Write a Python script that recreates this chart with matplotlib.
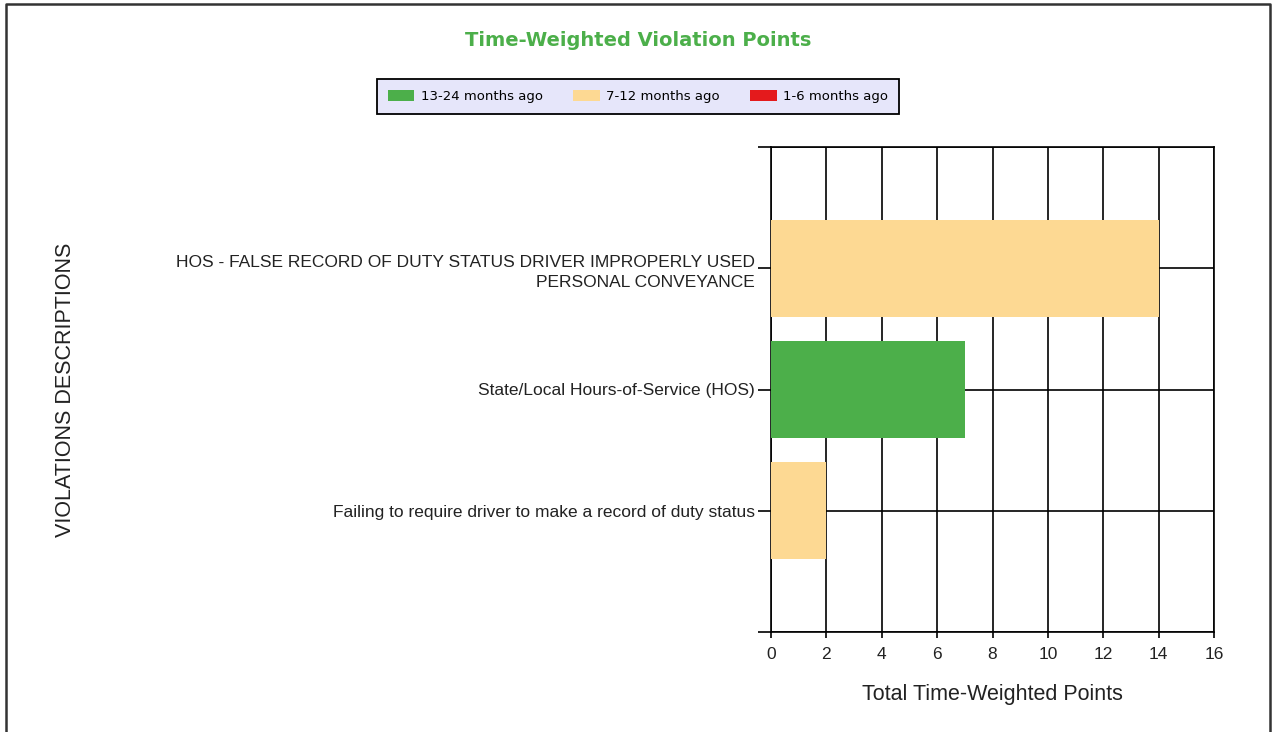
import matplotlib
matplotlib.use("Agg")
import matplotlib.pyplot as plt
from matplotlib.patches import Patch
from matplotlib.lines import Line2D
import numpy as np

# categories, listed top to bottom as in the chart
categories = ["HOS - FALSE RECORD OF DUTY STATUS DRIVER IMPROPERLY USED\nPERSONAL CONVEYANCE",
              "State/Local Hours-of-Service (HOS)",
              "Failing to require driver to make a record of duty status"]
series_names = ["13-24 months ago", "7-12 months ago", "1-6 months ago"]
pts_13_24 = [0, 7, 0]
pts_7_12 = [14, 0, 2]
pts_1_6 = [0, 0, 0]
xticks = [0, 2, 4, 6, 8, 10, 12, 14, 16]

colors = ["#4CAF4A", "#FDD993", "#E41A1C"]

plt.rcParams['font.family'] = ['Liberation Sans', 'DejaVu Sans']

fig = plt.figure(figsize=(12.74, 7.32), dpi=100)
ax = fig.add_axes([771/1274, 1-632/732, (1214-771)/1274, (632-147)/732])

y = np.arange(len(categories))
left = np.zeros(len(categories))
for vals, c in zip([pts_13_24, pts_7_12, pts_1_6], colors):
    vals = np.array(vals, dtype=float)
    ax.barh(y, vals, left=left, height=0.8, color=c, zorder=3)
    left += vals

ax.set_xlim(0, 16)
ax.set_ylim(len(categories), -1)
ax.set_xticks(xticks)
ax.set_xticklabels([str(t) for t in xticks], fontsize=12.5, color="#222222")
ax.set_yticks(np.arange(-1, len(categories) + 1))
ax.set_yticklabels([""] + categories + [""], fontsize=12.5, color="#222222", linespacing=1.4)
ax.grid(True, color="black", linewidth=1.2, zorder=0)
ax.set_axisbelow(True)
for s in ax.spines.values():
    s.set_color("black")
    s.set_linewidth(1.2)
ax.tick_params(axis="y", length=9.5, width=1.2, pad=2, color="black")
ax.tick_params(axis="x", length=4.5, width=1.2, pad=6, color="black")
ax.set_xlabel("Total Time-Weighted Points", fontsize=15.5, labelpad=16, color="#222222")

fig.text(66/1274, 1-390/732, "VIOLATIONS DESCRIPTIONS", rotation=90,
         ha="center", va="center", fontsize=15.5, color="#222222")

fig.text(638/1274, 1-41/732, "Time-Weighted Violation Points", ha="center", va="center",
         fontsize=14, fontweight="bold", color="#4CAF4A", family="DejaVu Sans")

handles = [Patch(facecolor=c, edgecolor="none") for c in colors]
leg = fig.legend(handles, series_names, loc="center", ncol=3,
                 bbox_to_anchor=(638/1274, 1-96.5/732),
                 prop={"family": "DejaVu Sans", "size": 9.5},
                 fancybox=False, framealpha=1, facecolor="#E6E6FA", edgecolor="black",
                 handlelength=2.0, handleheight=0.9, handletextpad=0.5,
                 columnspacing=2.3, borderpad=0.85)
leg.get_frame().set_linewidth(1.3)

# outer border (left, top, right)
fig.add_artist(Line2D([6/1274, 6/1274, 1270/1274, 1270/1274], [0, 1-4/732, 1-4/732, 0],
                      color="#333333", linewidth=1.8))

fig.savefig("out.png", dpi=100)
